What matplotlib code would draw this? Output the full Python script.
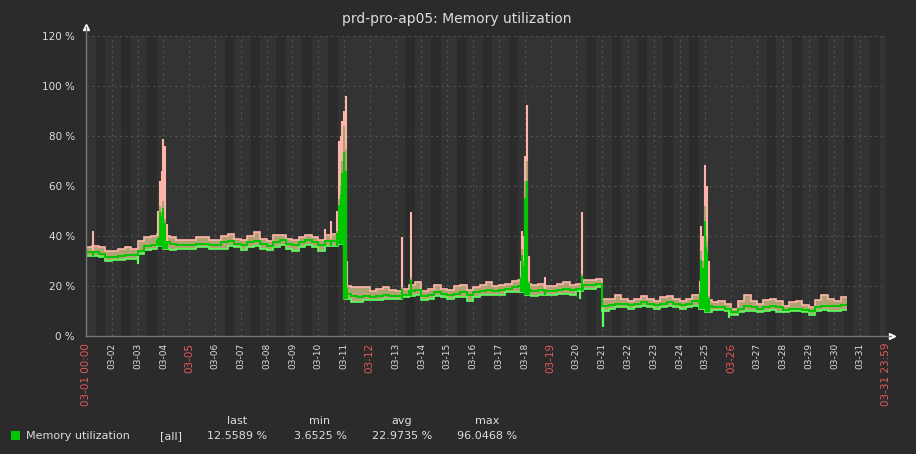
import numpy as np
import matplotlib.pyplot as plt

###############
# Data: Memory utilization, 6-hour buckets starting 03-01 00:00 (%)
avg = [
    33.5, 33.5, 33, 31.5,     # 03-01
    31.5, 32, 32.5, 32.5,     # 03-02
    34, 36, 36.5, 38,         # 03-03
    37.5, 37, 36.5, 36.5,     # 03-04
    36.5, 37, 37, 36.5,       # 03-05
    36.5, 37.5, 38, 37,       # 03-06
    36.5, 37.5, 38, 37,       # 03-07
    36, 37.5, 38.5, 37,       # 03-08
    36.5, 37.5, 38.5, 37.5,   # 03-09
    36.5, 38, 38, 40,         # 03-10
    17, 16, 15.5, 16,         # 03-11
    15.5, 16, 16.5, 16,       # 03-12
    16, 16.5, 18, 18.5,       # 03-13
    16, 16.5, 17.5, 17,       # 03-14
    16.5, 17, 17.5, 16.5,     # 03-15
    17.5, 18, 18.5, 18,       # 03-16
    18.5, 19, 19.5, 20,       # 03-17
    18.5, 18, 18.5, 18,       # 03-18
    18, 18.5, 19, 18.5,       # 03-19
    19, 20.5, 20.5, 21,       # 03-20
    12, 12.5, 13, 13,         # 03-21
    12.5, 13, 13.5, 13,       # 03-22
    12.5, 13, 13.5, 13,       # 03-23
    12.5, 13, 14, 13.5,       # 03-24
    12, 11.5, 11.5, 11,       # 03-25
    9.5, 11, 12, 11.5,        # 03-26
    11, 11.5, 12, 11.5,       # 03-27
    10.5, 11, 11, 10.5,       # 03-28
    10, 11.5, 12, 12,         # 03-29
    12, 12.5,                 # 03-30
]
hi = [
    35.5, 36, 35.5, 34,
    34, 35, 35.5, 35,
    38, 39.5, 40, 41,
    40, 39.5, 38.5, 38.5,
    38.5, 39.5, 39.5, 38.5,
    38.5, 40, 41, 39,
    38.5, 40, 41.5, 39,
    38, 40.5, 40.5, 39,
    38.5, 39.5, 40.5, 39.5,
    38.5, 40.5, 41, 46,
    20, 19.5, 19.5, 19.5,
    18, 19, 19.5, 18.5,
    18, 19, 20.5, 21.5,
    18, 19, 20.5, 19,
    18.5, 20, 20.5, 18.5,
    19.5, 20.5, 21.5, 20,
    20.5, 21, 22, 22.5,
    21, 20.5, 21, 20,
    20, 21, 21.5, 20.5,
    21, 22.5, 22.5, 23,
    15, 15, 16.5, 15,
    14, 15, 16, 15,
    14, 15.5, 16, 15,
    14, 15, 16.5, 16,
    14.5, 13.5, 14, 13,
    11, 14, 16.5, 14,
    13, 14.5, 15, 14,
    12, 13.5, 14, 12.5,
    11.5, 14.5, 16.5, 15,
    14, 15.5,
]
lo = [
    32, 32, 31.5, 30,
    30.5, 30.5, 31, 31,
    33, 34.5, 35, 36,
    35, 34.5, 35, 35,
    35, 35.5, 35.5, 35,
    35, 35, 36, 35.5,
    34.5, 35.5, 36, 35,
    34.5, 35.5, 36.5, 35,
    34, 35.5, 36.5, 35.5,
    34, 36, 36, 37,
    15, 13.5, 13.5, 14.5,
    14.5, 14.5, 15, 15,
    15, 15.5, 16, 16.5,
    14.5, 15, 16, 15.5,
    15, 15.5, 15.5, 14,
    15.5, 16.5, 16.5, 16.5,
    16.5, 17.5, 17.5, 17.5,
    16.5, 16, 16.5, 16.5,
    16.5, 17, 17, 16.5,
    18, 19, 19, 19.5,
    10, 11, 11.5, 11.5,
    11, 11.5, 12, 11.5,
    11, 11.5, 12, 11.5,
    11, 11.5, 12, 11,
    9.5, 10.5, 10.5, 10,
    8.5, 9.5, 10, 10,
    9.5, 10, 10.5, 9.5,
    9.5, 10, 10, 9.5,
    8.5, 10, 10.5, 10,
    10, 10.5,
]

# short peaks (day offset from 03-01 00:00, max %, avg %)
spike_day = [0.26, 2.80, 2.88, 2.94, 3.00, 3.08, 3.14,
             9.26, 9.51, 9.74, 9.80, 9.87, 9.93, 10.00, 10.08, 10.13,
             12.24, 12.58,
             16.84, 16.90, 16.96, 17.03, 17.08, 17.15, 17.80, 19.21,
             23.80, 23.85, 23.92, 23.97, 24.03, 24.07, 24.13]
spike_max = [42, 50, 62, 66, 79, 76, 45,
             43, 46, 50, 78, 80, 86, 90, 96, 30,
             39.7, 49.7,
             30, 42, 40, 72, 92.4, 32, 23.5, 49.7,
             22, 44, 40, 68.5, 52, 60, 30]
spike_avg = [34, 40, 52, 50, 54, 47, 38,
             38, 39, 42, 55, 60, 70, 84, 75, 20,
             19.5, 23.5,
             24, 35, 30, 62, 70, 22, 19, 25,
             18, 34, 30, 52, 40, 38, 16]

# short drops (day offset, min %)
dip_day = [2.03, 19.15, 20.05, 24.90]
dip_min = [29, 15, 3.7, 7.3]

day_labels = ['03-01 00:00'] + ['03-%02d' % d for d in range(2, 32)] + ['03-31 23:59']
red_ticks = [0, 4, 11, 18, 25, 31]

legend_cols = ['last', 'min', 'avg', 'max']
legend_vals = ['12.5589 %', '3.6525 %', '22.9735 %', '96.0468 %']

###############
# Colours
BG = '#2b2b2b'
PLOT_BG = '#333333'
WORK_BG = '#2b2b2b'
GRID = '#505050'
TEXT = '#dddddd'
RED = '#e45959'
PINK = '#ffb4aa'
FILL = '#b0a272'
LGREEN = '#5cff5c'
GREEN = '#00c800'

W, H = 916, 454
fig = plt.figure(figsize=(W / 100, H / 100), dpi=100, facecolor=BG)
ax = fig.add_axes([86 / W, (H - 336) / H, 800 / W, 300 / H])
ax.set_facecolor(PLOT_BG)
ax.set_xlim(0, 31)
ax.set_ylim(0, 120)

# working time (Mon-Fri 09:00-18:00), 03-01 is a Wednesday
for k in range(31):
    if k % 7 not in (3, 4):
        ax.axvspan(k + 9 / 24, k + 18 / 24, color=WORK_BG, lw=0, zorder=0)

for y in range(20, 121, 20):
    ax.axhline(y, color=GRID, ls=(0, (2, 3)), lw=0.8, zorder=1)
for k in range(1, 32):
    ax.axvline(k, color=GRID, ls=(0, (2, 3)), lw=0.8, zorder=1)

# min/avg/max
edges = np.arange(len(avg) + 1) / 4
ax.stairs(hi, edges, baseline=lo, fill=True, color=FILL, lw=0, zorder=2)
ax.stairs(hi, edges, baseline=None, color=PINK, lw=1.2, zorder=3)
ax.stairs(lo, edges, baseline=None, color=LGREEN, lw=1.2, zorder=3)

base = np.array(lo)[(np.array(spike_day) * 4).astype(int)]
ax.vlines(spike_day, base, spike_max, color=PINK, lw=1.5, zorder=4)
ax.vlines(spike_day, base, spike_avg, color=FILL, lw=1.5, zorder=4)
ax.vlines(spike_day, base, np.array(spike_avg) * 0.85 + base * 0.15, color=GREEN, lw=1.5, zorder=6)
dip_top = np.array(avg)[(np.array(dip_day) * 4).astype(int)]
ax.vlines(dip_day, dip_min, dip_top, color=LGREEN, lw=1.6, zorder=4)

ax.stairs(avg, edges, baseline=None, color=GREEN, lw=1.4, zorder=5)

# axes with arrows
for s in ax.spines.values():
    s.set_visible(False)
ax.plot([0, 0], [0, 1.03], transform=ax.transAxes, color='#777777', lw=1, clip_on=False, zorder=7)
ax.plot([0, 1.006], [0, 0], transform=ax.transAxes, color='#777777', lw=1, clip_on=False, zorder=7)
ax.plot([0], [1.03], marker='^', color='white', ms=4, transform=ax.transAxes, clip_on=False)
ax.plot([1.007], [0], marker='>', color='white', ms=4, transform=ax.transAxes, clip_on=False)

ax.set_yticks(range(0, 121, 20))
ax.set_yticklabels(['%d %%' % v for v in range(0, 121, 20)])
ax.tick_params(axis='y', length=0, pad=8, labelsize=7.5, colors=TEXT)
ax.set_xticks(range(32))
ax.set_xticklabels(day_labels, rotation=90, va='top', ha='center')
ax.tick_params(axis='x', length=0, pad=5, labelsize=6.5, colors=TEXT)
for i, lab in enumerate(ax.get_xticklabels()):
    if i in red_ticks:
        lab.set_color(RED)
        lab.set_fontsize(7.5)

fig.text(457 / W, 1 - 19 / H, 'prd-pro-ap05: Memory utilization', color=TEXT,
         fontsize=10, ha='center', va='center')

# legend
fig.patches.append(plt.Rectangle((11 / W, 1 - 440 / H), 9 / W, 9 / H, transform=fig.transFigure,
                                 facecolor=GREEN, edgecolor='none'))
fig.text(26 / W, 1 - 436 / H, 'Memory utilization', color=TEXT, fontsize=8, va='center')
fig.text(160 / W, 1 - 436 / H, '[all]', color=TEXT, fontsize=8, va='center')
for cx, col, val in zip([237, 320, 402, 487], legend_cols, legend_vals):
    fig.text(cx / W, 1 - 421 / H, col, color=TEXT, fontsize=8, ha='center', va='center')
    fig.text(cx / W, 1 - 436 / H, val, color=TEXT, fontsize=8, ha='center', va='center')

fig.savefig('out.png', dpi=100, facecolor=BG)
